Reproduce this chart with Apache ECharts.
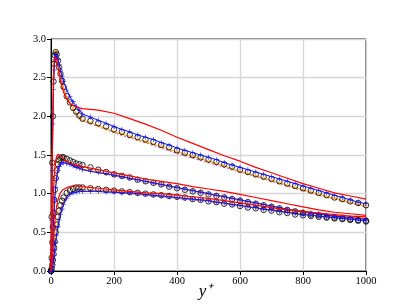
<!DOCTYPE html>
<html><head><meta charset="utf-8">
<script src="https://cdn.jsdelivr.net/npm/echarts@6/dist/echarts.min.js"></script>
<style>html,body{margin:0;padding:0;background:#fff}#c{width:407px;height:305px}</style>
</head><body><div id="c"></div>
<script>
// y+ positions
const xInner = [0,2,4,6,8,10,12,15,18,22,26,30,35,40,50,60,70,80,90];
const xOuterMarkers = [100,125,150,175,200,225,250,275,300,325,350,375,400,425,450,475,500,525,550,575,600,625,650,675,700,725,750,775,800,825,850,875,900,925,950,975,1000];
const xOuterLines = [100,150,200,250,300,350,400,450,500,550,600,650,700,750,800,850,900,950,1000];
const xTicks = [0,200,400,600,800,1000];
const yTicks = [0.0,0.5,1.0,1.5,2.0,2.5,3.0];

// u component
const circU = [0,0.7,1.4,2.0,2.45,2.68,2.79,2.83,2.8,2.72,2.63,2.55,2.46,2.38,2.26,2.18,2.11,2.06,2.01,
  1.97,1.94,1.91,1.87,1.83,1.80,1.76,1.73,1.70,1.67,1.63,1.60,1.56,1.53,1.50,1.47,1.44,1.41,1.38,1.35,1.31,1.28,1.25,1.22,1.19,1.16,1.13,1.10,1.07,1.04,1.01,0.98,0.95,0.93,0.90,0.88,0.85];
const blueU = [0,0.65,1.3,1.9,2.35,2.6,2.73,2.8,2.79,2.74,2.67,2.6,2.52,2.45,2.34,2.26,2.19,2.13,2.08,
  2.03,1.99,1.95,1.91,1.87,1.83,1.80,1.76,1.73,1.70,1.66,1.63,1.59,1.56,1.53,1.50,1.47,1.44,1.40,1.37,1.34,1.31,1.28,1.25,1.22,1.19,1.16,1.13,1.10,1.07,1.04,1.01,0.98,0.95,0.92,0.89,0.87];
const orangeU = [0,0.75,1.45,2.05,2.5,2.72,2.82,2.85,2.82,2.74,2.64,2.55,2.45,2.37,2.25,2.17,2.10,2.04,1.99,
  1.95,1.92,1.88,1.84,1.80,1.77,1.74,1.70,1.67,1.64,1.61,1.57,1.54,1.51,1.48,1.45,1.42,1.39,1.36,1.32,1.29,1.26,1.23,1.20,1.17,1.14,1.11,1.08,1.05,1.02,0.99,0.96,0.94,0.91,0.89,0.86,0.84];
const redU = [0,0.72,1.45,2.1,2.5,2.7,2.77,2.78,2.74,2.65,2.55,2.46,2.38,2.31,2.22,2.17,2.14,2.12,2.11,
  2.10,2.08,2.04,1.97,1.90,1.82,1.73,1.65,1.57,1.49,1.42,1.34,1.27,1.20,1.13,1.07,1.01,0.97,0.93];
const violetU = [0,0.7,1.42,2.02,2.46,2.69,2.8,2.84,2.81,2.73,2.63,2.54,2.44,2.36,2.24,2.16,2.09,2.03,1.98,
  1.94,1.87,1.79,1.72,1.66,1.59,1.52,1.46,1.40,1.34,1.28,1.22,1.16,1.10,1.04,0.98,0.93,0.88,0.83];

// w component
const circW = [0,0.17,0.37,0.57,0.75,0.92,1.05,1.2,1.3,1.38,1.43,1.46,1.47,1.47,1.45,1.43,1.41,1.39,1.38,
  1.37,1.34,1.31,1.28,1.25,1.23,1.21,1.18,1.16,1.14,1.12,1.09,1.07,1.05,1.03,1.01,0.99,0.97,0.95,0.93,0.91,0.89,0.87,0.85,0.83,0.81,0.79,0.77,0.75,0.73,0.72,0.70,0.69,0.68,0.67,0.66,0.65];
const blueW = [0,0.12,0.28,0.45,0.62,0.78,0.92,1.08,1.2,1.3,1.35,1.38,1.40,1.40,1.39,1.38,1.36,1.34,1.33,
  1.31,1.29,1.27,1.26,1.24,1.22,1.20,1.18,1.16,1.14,1.12,1.10,1.08,1.06,1.04,1.02,1.00,0.98,0.96,0.94,0.92,0.90,0.88,0.86,0.84,0.82,0.80,0.78,0.77,0.75,0.74,0.72,0.71,0.70,0.69,0.68,0.67];
const orangeW = [0,0.15,0.33,0.52,0.7,0.86,1.0,1.15,1.26,1.35,1.4,1.42,1.43,1.43,1.41,1.39,1.37,1.35,1.34,
  1.32,1.30,1.28,1.26,1.24,1.22,1.20,1.18,1.16,1.14,1.12,1.10,1.08,1.06,1.04,1.02,1.00,0.98,0.96,0.94,0.92,0.90,0.88,0.86,0.84,0.82,0.80,0.79,0.77,0.76,0.74,0.73,0.72,0.71,0.70,0.69,0.68];
const redW = [0,0.3,0.6,0.85,1.05,1.2,1.32,1.43,1.48,1.51,1.51,1.49,1.47,1.45,1.42,1.40,1.38,1.37,1.36,
  1.35,1.31,1.27,1.23,1.19,1.16,1.13,1.09,1.06,1.03,0.99,0.95,0.91,0.87,0.83,0.79,0.76,0.74,0.72];
const violetW = [0,0.14,0.31,0.5,0.68,0.84,0.98,1.13,1.24,1.34,1.39,1.41,1.42,1.42,1.40,1.38,1.36,1.34,1.33,
  1.31,1.27,1.23,1.19,1.15,1.11,1.07,1.03,0.99,0.95,0.91,0.87,0.83,0.80,0.76,0.73,0.71,0.69,0.67];

// v component
const circV = [0,0.03,0.08,0.14,0.22,0.3,0.38,0.5,0.6,0.7,0.78,0.85,0.91,0.95,1.01,1.04,1.06,1.08,1.08,
  1.08,1.07,1.06,1.05,1.04,1.03,1.02,1.01,1.00,0.99,0.98,0.97,0.96,0.95,0.93,0.92,0.90,0.89,0.87,0.86,0.84,0.82,0.81,0.79,0.78,0.76,0.75,0.73,0.72,0.71,0.70,0.69,0.68,0.67,0.66,0.65,0.64];
const blueV = [0,0.01,0.04,0.08,0.14,0.2,0.27,0.37,0.46,0.57,0.66,0.73,0.8,0.86,0.94,0.99,1.01,1.02,1.03,
  1.03,1.03,1.03,1.02,1.02,1.01,1.01,1.00,0.99,0.98,0.97,0.96,0.95,0.94,0.93,0.92,0.91,0.89,0.88,0.86,0.85,0.83,0.82,0.80,0.79,0.77,0.76,0.74,0.73,0.72,0.71,0.70,0.69,0.68,0.67,0.66,0.65];
const orangeV = [0,0.02,0.06,0.12,0.19,0.27,0.35,0.46,0.55,0.65,0.73,0.8,0.86,0.9,0.97,1.01,1.03,1.04,1.05,
  1.05,1.05,1.04,1.04,1.03,1.02,1.01,1.00,0.99,0.98,0.97,0.96,0.95,0.94,0.93,0.92,0.91,0.89,0.88,0.86,0.85,0.83,0.82,0.80,0.79,0.78,0.76,0.75,0.74,0.73,0.71,0.70,0.69,0.68,0.67,0.67,0.66];
const redV = [0,0.04,0.12,0.24,0.38,0.52,0.63,0.75,0.84,0.92,0.97,1.01,1.04,1.06,1.08,1.09,1.10,1.10,1.10,
  1.09,1.07,1.05,1.03,1.01,1.00,0.98,0.96,0.94,0.91,0.88,0.85,0.82,0.79,0.77,0.75,0.73,0.71,0.70];
const violetV = [0,0.02,0.05,0.11,0.18,0.25,0.33,0.44,0.53,0.63,0.71,0.78,0.84,0.89,0.96,1.0,1.02,1.03,1.04,
  1.04,1.03,1.02,1.00,0.98,0.96,0.94,0.92,0.90,0.87,0.84,0.81,0.78,0.75,0.73,0.71,0.69,0.67,0.66];

const xM = xInner.concat(xOuterMarkers);
const xL = xInner.concat(xOuterLines);
const pair = (xs, ys) => xs.map((x, i) => [x, ys[i]]);

const FONT = 'Liberation Serif';
const plus = 'path://M4.4,0H5.6V4.4H10V5.6H5.6V10H4.4V5.6H0V4.4H4.4Z';
const cross = 'path://M0.7,0L5,4.3L9.3,0L10,0.7L5.7,5L10,9.3L9.3,10L5,5.7L0.7,10L0,9.3L4.3,5L0,0.7Z';

function violetS(d){ return {type:'line', data:pair(xL,d), symbol:'none', lineStyle:{color:'#d05ce3', width:1.2, type:[2,2]}, z:2}; }
function orangeS(d){ return {type:'line', data:pair(xM,d), symbol:cross, symbolSize:4, showAllSymbol:true, itemStyle:{color:'#ffae00'}, lineStyle:{color:'#ffae00', width:1}, z:3}; }
function circS(d){ return {type:'scatter', data:pair(xM,d), symbol:'circle', symbolSize:5.5, itemStyle:{color:'rgba(0,0,0,0)', borderColor:'#000', borderWidth:1}, z:4}; }
function blueS(d){ return {type:'line', data:pair(xM,d), symbol:plus, symbolSize:5, showAllSymbol:true, itemStyle:{color:'#1010ff'}, lineStyle:{color:'#1010ff', width:1}, z:5}; }
function redS(d){ return {type:'line', data:pair(xL,d), symbol:'none', lineStyle:{color:'#ff0000', width:1.2}, z:6}; }

const chart = echarts.init(document.getElementById('c'), null, {renderer:'canvas'});
chart.setOption({
  animation:false,
  backgroundColor:'#fff',
  grid:{left:51, right:41, top:39, bottom:34, outerBoundsMode:'none', containLabel:false, show:true, borderColor:'#000', borderWidth:1, backgroundColor:'transparent'},
  xAxis:{type:'value', min:xTicks[0], max:xTicks[xTicks.length-1], interval:200,
    name:'y\u207A', nameLocation:'middle', nameGap:12, nameMoveOverlap:false,
    nameTextStyle:{fontFamily:FONT, fontStyle:'italic', fontSize:17, color:'#000', padding:[0,0,0,-6], verticalAlign:'top'},
    axisLine:{show:true, lineStyle:{color:'#000', width:1}},
    axisTick:{show:true, inside:false, length:4, lineStyle:{color:'#000'}},
    axisLabel:{fontFamily:FONT, fontSize:10.5, color:'#000', margin:5, formatter:v=>String(v)},
    splitLine:{show:true, lineStyle:{color:'#d6d6d6', width:1.3}}},
  yAxis:{type:'value', min:yTicks[0], max:yTicks[yTicks.length-1], interval:0.5,
    axisLine:{show:true, lineStyle:{color:'#000', width:1}},
    axisTick:{show:true, inside:false, length:4, lineStyle:{color:'#000'}},
    axisLabel:{fontFamily:FONT, fontSize:10.5, color:'#000', margin:5, formatter:v=>v.toFixed(1)},
    splitLine:{show:true, lineStyle:{color:'#d6d6d6', width:1.3}}},
  series:[
    violetS(violetU), violetS(violetW), violetS(violetV),
    orangeS(orangeU), orangeS(orangeW), orangeS(orangeV),
    circS(circU), circS(circW), circS(circV),
    blueS(blueU), blueS(blueW), blueS(blueV),
    redS(redU), redS(redW), redS(redV)
  ]
});
</script></body></html>
